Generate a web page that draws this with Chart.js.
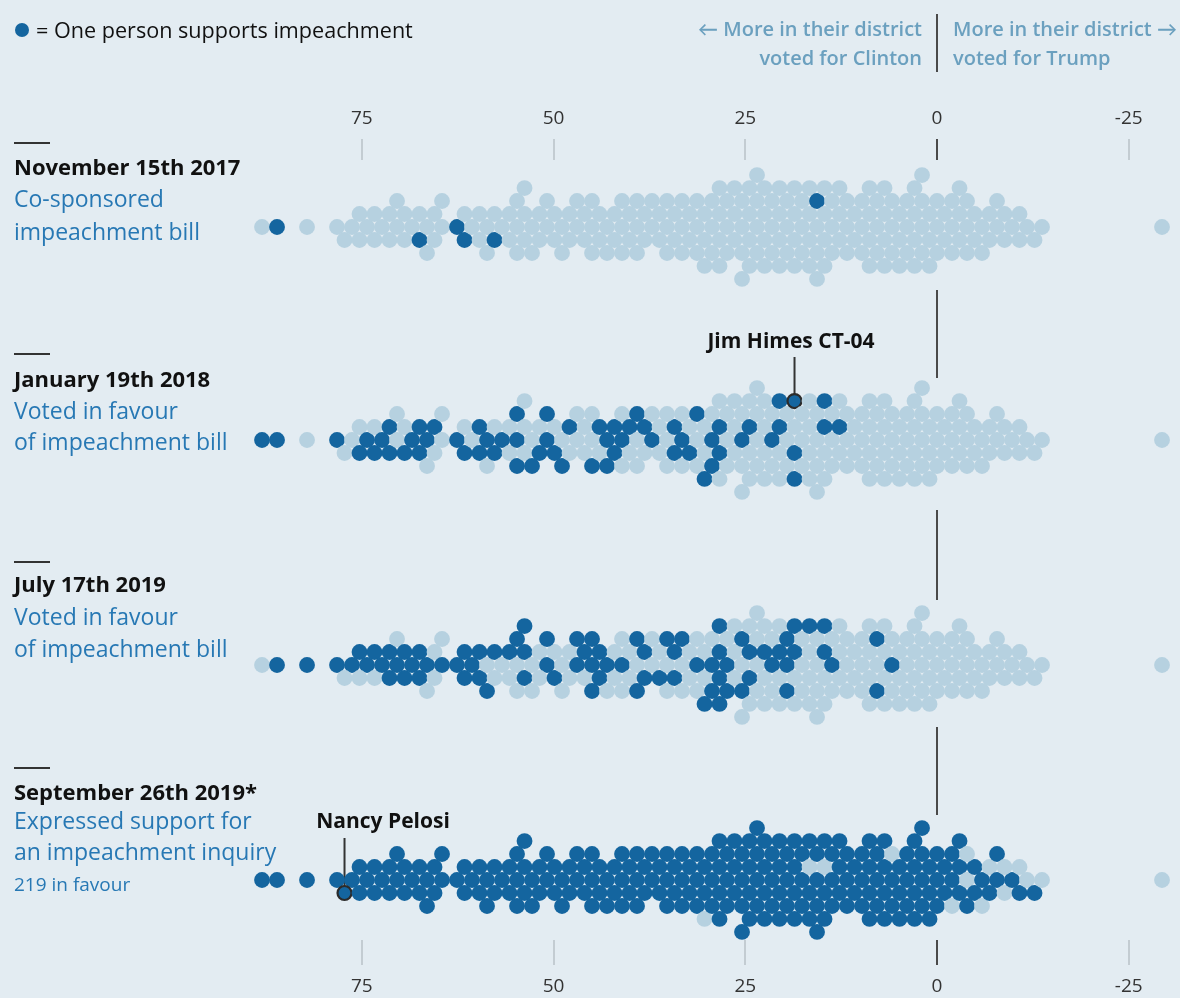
<!DOCTYPE html>
<html>
<head>
<meta charset="utf-8">
<script src="https://cdn.jsdelivr.net/npm/chart.js@4.4.0/dist/chart.umd.min.js"></script>
<style>
    html, body { margin: 0; padding: 0; background: #e3ecf2; }
    #lienzo { position: relative; width: 1180px; height: 998px; overflow: hidden; font-family: "Open Sans", Lato, sans-serif; }
    #lienzo canvas { position: absolute; left: 0; top: 0; }
    .texto { position: absolute; white-space: nowrap; line-height: 30px; transform: translateY(-50%); }
</style>
</head>
<body>
<div id="lienzo"><canvas id="enjambre" width="1180" height="998"></canvas></div>
<script>
// Margen de Clinton (puntos) en el distrito de cada demócrata, de izquierda a derecha
const margenClinton = [
    87.7, 85.8, 82.8, 79.0, 77.0, 76.3, 75.8, 75.1,
    74.7, 74.1, 73.4, 73.0, 72.2, 71.9, 71.1, 70.5, 70.2,
    69.5, 69.1, 68.3, 68.0, 67.2, 66.9, 66.1, 65.8, 65.1,
    64.6, 63.3, 62.4, 61.6, 61.3, 60.1,
    59.8, 59.3, 59.0, 58.4, 58.1, 57.5, 56.6, 56.4, 55.7, 55.5, 55.0,
    54.7, 54.1, 53.9, 53.2, 53.0, 52.4, 51.5, 51.3, 50.7, 50.5, 50.1,
    49.5, 49.3, 48.7, 48.4, 47.8, 46.9, 46.7, 46.1, 45.9, 45.3, 45.0,
    44.5, 44.3, 43.6, 43.4, 42.8, 42.5, 41.9, 41.7, 41.1, 40.9, 40.3, 40.0,
    39.5, 39.3, 38.7, 38.4, 37.8, 37.4, 36.9, 36.5, 36.1, 35.6, 35.2,
    34.8, 34.3, 34.1, 33.5, 33.3, 32.8, 32.6, 32.0, 31.8, 31.3, 31.1, 30.6, 30.4, 30.0,
    29.8, 29.4, 29.3, 28.8, 28.7, 28.2, 28.0, 27.7, 27.5, 27.1, 27.0, 26.5, 26.4, 26.0, 25.9, 25.4, 25.3, 25.0,
    24.8, 24.6, 24.1, 24.0, 23.6, 23.5, 23.1, 22.9, 22.7, 22.3, 22.2, 21.7, 21.6, 21.2, 21.1, 20.7, 20.6, 20.2, 20.0,
    19.9, 19.5, 19.3, 18.9, 18.8, 18.3, 18.2, 17.9, 17.6, 17.5, 17.0, 16.9, 16.5, 16.4, 16.0, 15.8, 15.5, 15.3, 15.0,
    14.7, 14.3, 14.1, 13.6, 13.4, 13.0, 12.8, 12.3, 12.1, 11.7, 11.4, 11.0, 10.7, 10.4, 10.0,
    9.6, 9.4, 9.1, 8.9, 8.7, 8.2, 8.0, 7.6, 7.3, 7.0, 6.9, 6.6, 6.2, 5.9, 5.6, 5.3, 5.0,
    4.7, 4.3, 4.1, 3.8, 3.6, 3.4, 3.0, 2.7, 2.4, 2.2, 2.0, 1.8, 1.3, 1.1, 0.7, 0.4, 0.1,
    -0.3, -0.6, -1.1, -1.3, -1.8, -2.1, -2.6, -2.8, -3.3, -3.6, -4.0, -4.2, -4.7, -5.0,
    -5.6, -6.0, -6.7, -7.1, -7.8, -8.2, -8.9, -9.3, -9.9,
    -10.6, -11.3, -12.5, -13.7,
    -29.8
];

const ticksEje = [75, 50, 25, 0, -25];

const fechas = ["November 15th 2017", "January 19th 2018", "July 17th 2019", "September 26th 2019*"];
const descripciones = [
    ["Co-sponsored", "impeachment bill"],
    ["Voted in favour", "of impeachment bill"],
    ["Voted in favour", "of impeachment bill"],
    ["Expressed support for", "an impeachment inquiry"]
];
const notaFavor = "219 in favour";

// Quién apoya en cada fecha: [margen, carril aproximado dentro del enjambre]
const apoyoNov2017 = [[85.7, 0], [67.4, 0.7], [63.5, 0.2], [60.9, 1.5], [57.6, 0.7], [15.3, -1.5]];
const apoyoEne2018 = [
    [87.6, 0.1], [85.7, 0.1], [78.9, 0.1], [72.0, -1.5], [74.3, -0.6], [72.2, -0.4], [74.8, 0.6], [72.9, 0.9],
    [70.9, 0.5], [71.3, 1.7], [68.4, -1.2], [69.1, 0], [67.1, -0.4], [67.7, 0.9], [65.2, -0.6], [62.4, -0.5],
    [59.2, -1.4], [58.3, -0.2], [59.6, 0.8], [57.6, 0.9], [60.9, 1.7], [56.1, -2.2], [56.3, -0.2], [54.0, -0.2],
    [51.8, -0.2], [51.4, -2.1], [48.8, -0.8], [51.1, 1.0], [49.2, 1.2], [54.4, 1.9], [52.2, 2.1], [48.2, 2.3],
    [44.9, 2.7], [44.2, -1.3], [43.5, -1.4], [42.6, -0.4], [43.3, 1.8], [42.0, 0.8], [40.7, -0.2], [39.6, -1.0],
    [38.3, -2.1], [37.7, -0.8], [37.0, 0.6], [35.2, 0.8], [34.6, -1.3], [33.9, -0.2], [33.2, 1.0], [31.8, -2.2],
    [28.7, -0.8], [29.9, 0.2], [28.0, 1.2], [29.6, 2.1], [30.9, 2.8], [24.8, -1.3], [25.4, 0], [21.5, -0.5],
    [19.6, -0.8], [20.2, -2.8], [18.1, -2.9], [14.3, -3.6], [15.3, -1.4], [12.0, -0.6], [18.9, 1.3], [18.1, 3.2]
];
const apoyoJul2019 = [
    [85.7, 0], [82.7, 0], [78.9, 0], [76.5, -0.5], [74.3, -1.2], [72.2, -1.3], [74.8, 0.4], [71.3, 0.5],
    [71.1, 1.5], [69.4, 1.2], [70.3, -0.4], [68.4, -0.8], [66.8, -0.4], [65.1, -0.4], [63.2, -0.8], [61.5, -1.3],
    [60.9, 0], [59.2, 0.5], [58.7, 1.5], [60.9, 1.2], [59.6, -1.9], [57.6, -1.2], [56.3, -2.1], [55.7, -0.4],
    [54.4, -1.3], [53.7, 0.5], [51.8, -1.9], [50.7, -0.5], [49.2, 1.2], [47.6, -1.9], [45.9, -0.8], [44.2, -2.5],
    [43.9, -1.3], [44.9, 0.2], [43.3, 1.2], [42.4, -0.4], [44.2, 2.3], [40.0, 1.9], [40.7, 0], [38.7, -2.1],
    [37.4, -0.8], [36.1, 0.5], [33.5, -1.3], [32.5, -2.3], [31.6, -0.4], [33.5, 1.2], [30.9, 2.7], [29.6, 1.9],
    [29.3, -3.1], [28.0, -1.2], [27.6, 0], [28.6, 1.2], [26.6, 1.9], [27.2, 3.6], [25.0, 1.9], [25.7, -1.9],
    [24.6, -0.4], [23.1, -1.3], [21.8, -0.8], [21.1, 0.5], [20.2, -0.4], [19.4, -3.8], [18.9, -2.7], [18.1, -3.1],
    [17.9, -1.3], [14.2, -3.6], [15.5, -1.3], [14.0, -0.4], [7.4, -2.1], [5.1, -0.2], [8.5, 2.1], [19.8, 1.9],
    [23.7, 1.2], [30.9, 0], [35.1, -1.9], [38.3, 0.8], [47.2, 0.4], [51.1, -3.1], [75.9, -1.3], [73.7, -0.4],
    [67.4, 0.5], [68.7, 0.2]
];
// En septiembre de 2019 casi todos apoyan: se listan los que no
const sinApoyoSep2019 = [
    [30.9, 2.8], [17.5, -1], [14.2, -0.5], [5.5, -2.2], [-3.7, -1.9], [-3.9, 0], [-2.6, 2.3], [-6.5, 2.1],
    [-6.9, -1.2], [-9.3, -1.2], [-8.9, 1.3], [-11.2, -0.6], [-11.7, 0.6], [-13.4, 0], [-29.7, 0]
];
const jimHimes = [19.4, -3.8];
const nancyPelosi = [76.8, 0.6];

// ----- Disposición -----
const X_MIN = -31.68, X_MAX = 122.17;
const ANCHO = 1180, ALTO = 998;
const PX_POR_UNIDAD = ANCHO / (X_MAX - X_MIN);
const DIAMETRO = 15;
const PX_POR_FILA = DIAMETRO * Math.sqrt(3) / 2;
const centrosFilas = [227, 440, 665, 880];
const COLOR_CLARO = "#b6d1e0";
const COLOR_OSCURO = "#14659f";

// Enjambre sobre una rejilla hexagonal: cada punto va a la celda libre más cercana al centro
function calcularEnjambre(valores) {
    const ocupadas = new Set();
    let lado = 1;
    return valores.map(valor => {
        const x = valor * PX_POR_UNIDAD;
        for (let k = 0; k < 40; k++) {
            const carriles = k === 0 ? [0] : [k * lado, -k * lado];
            for (const f of carriles) {
                const desfase = (Math.abs(f) % 2) * DIAMETRO / 2;
                const n = Math.round((x - desfase) / DIAMETRO);
                const clave = f + ':' + n;
                if (!ocupadas.has(clave)) {
                    ocupadas.add(clave);
                    if (k > 0) lado = -lado;
                    return { valor, x: n * DIAMETRO + desfase, dy: f * PX_POR_FILA };
                }
            }
        }
    });
}

// Buscar en el enjambre la persona más cercana a cada referencia
function buscarPersonas(enjambre, lista) {
    const elegidos = new Set();
    lista.forEach(([valor, carril]) => {
        let mejor = -1, mejorD = Infinity;
        enjambre.forEach((p, i) => {
            if (elegidos.has(i)) return;
            const dx = p.x - valor * PX_POR_UNIDAD;
            const dy = p.dy - carril * 13;
            const d = dx * dx + dy * dy;
            if (d < mejorD) { mejorD = d; mejor = i; }
        });
        elegidos.add(mejor);
    });
    return elegidos;
}

const enjambre = calcularEnjambre(margenClinton);
const listasApoyo = [apoyoNov2017, apoyoEne2018, apoyoJul2019];

const datasets = centrosFilas.map((centro, fila) => {
    let oscuros;
    if (fila < 3) {
        oscuros = buscarPersonas(enjambre, listasApoyo[fila]);
    } else {
        const claros = buscarPersonas(enjambre, sinApoyoSep2019);
        oscuros = new Set(enjambre.map((p, i) => i).filter(i => !claros.has(i)));
    }
    const destacado = fila === 1 ? buscarPersonas(enjambre, [jimHimes]) : fila === 3 ? buscarPersonas(enjambre, [nancyPelosi]) : new Set();
    return {
        data: enjambre.map(p => ({ x: p.x / PX_POR_UNIDAD, y: centro + p.dy })),
        backgroundColor: enjambre.map((p, i) => oscuros.has(i) || destacado.has(i) ? COLOR_OSCURO : COLOR_CLARO),
        borderColor: enjambre.map((p, i) => destacado.has(i) ? "#2b2b2b" : "rgba(0,0,0,0)"),
        borderWidth: enjambre.map((p, i) => destacado.has(i) ? 2.2 : 0),
        pointRadius: enjambre.map((p, i) => destacado.has(i) ? 7 : 7.9),
        destacado: [...destacado][0]
    };
});

// Líneas del eje: marcas de ticks y la línea del cero entre filas
const lineasEje = {
    id: 'lineasEje',
    beforeDatasetsDraw(chart) {
        const ctx = chart.ctx;
        const x = chart.scales.x;
        ctx.save();
        ticksEje.forEach(t => {
            const px = Math.round(x.getPixelForValue(t));
            ctx.strokeStyle = t === 0 ? '#4a4a4a' : '#c3ccd2';
            ctx.lineWidth = 2;
            [[139, 160], [940, 965]].forEach(([y0, y1]) => {
                ctx.beginPath(); ctx.moveTo(px, y0); ctx.lineTo(px, y1); ctx.stroke();
            });
        });
        const cero = Math.round(x.getPixelForValue(0));
        ctx.strokeStyle = '#4a4a4a';
        ctx.lineWidth = 2;
        [[14, 72], [290, 378], [510, 600], [727, 815]].forEach(([y0, y1]) => {
            ctx.beginPath(); ctx.moveTo(cero, y0); ctx.lineTo(cero, y1); ctx.stroke();
        });
        // líneas guía de las anotaciones
        ctx.strokeStyle = '#333';
        [[1, 357], [3, 838]].forEach(([fila, y0]) => {
            const ds = chart.data.datasets[fila];
            const p = ds.data[ds.destacado];
            const px = x.getPixelForValue(p.x);
            const py = chart.scales.y.getPixelForValue(p.y);
            ctx.beginPath(); ctx.moveTo(px, y0); ctx.lineTo(px, py - 7); ctx.stroke();
        });
        ctx.restore();
    }
};

const grafico = new Chart(document.getElementById('enjambre'), {
    type: 'scatter',
    data: { datasets },
    options: {
        responsive: false,
        animation: false,
        events: [],
        layout: { padding: 0, autoPadding: false },
        plugins: { legend: { display: false }, tooltip: { enabled: false } },
        scales: {
            x: { type: 'linear', reverse: true, min: X_MIN, max: X_MAX, display: false },
            y: { type: 'linear', reverse: true, min: 0, max: ALTO, display: false }
        }
    },
    plugins: [lineasEje]
});

// ----- Textos -----
const lienzo = document.getElementById('lienzo');
function ponerTexto(texto, x, y, estilo, alineacion) {
    const div = document.createElement('div');
    div.className = 'texto';
    div.textContent = texto;
    Object.assign(div.style, estilo);
    div.style.top = y + 'px';
    if (alineacion === 'derecha') {
        div.style.right = (ANCHO - x) + 'px';
    } else if (alineacion === 'centro') {
        div.style.left = x + 'px';
        div.style.transform = 'translate(-50%, -50%)';
    } else {
        div.style.left = x + 'px';
    }
    lienzo.appendChild(div);
    return div;
}

// leyenda
const punto = document.createElement('div');
Object.assign(punto.style, { position: 'absolute', left: '15px', top: '23px', width: '14px', height: '14px', borderRadius: '50%', background: COLOR_OSCURO });
lienzo.appendChild(punto);
ponerTexto("= One person supports impeachment", 36, 30, { fontSize: '21.6px', color: '#111' });

// cabecera a ambos lados del cero
const estiloCabecera = { fontSize: '20px', fontWeight: '600', color: '#6ba0bf' };
ponerTexto("\u2190 More in their district", 922, 29, estiloCabecera, 'derecha');
ponerTexto("voted for Clinton", 922, 58, estiloCabecera, 'derecha');
ponerTexto("More in their district \u2192", 953, 29, estiloCabecera);
ponerTexto("voted for Trump", 953, 58, estiloCabecera);

// etiquetas de los ticks arriba y abajo
ticksEje.forEach(t => {
    const px = grafico.scales.x.getPixelForValue(t);
    [117, 985].forEach(y => ponerTexto(String(t), px, y, { fontSize: '19px', color: '#333' }, 'centro'));
});

// etiquetas de cada fila
const lineasFilas = [[143, 166, 198, 231], [354, 378, 410, 441], [562, 583, 616, 648], [768, 791, 820, 851]];
lineasFilas.forEach((ys, fila) => {
    const barra = document.createElement('div');
    Object.assign(barra.style, { position: 'absolute', left: '14px', top: (ys[0] - 1) + 'px', width: '36px', height: '2px', background: '#333' });
    lienzo.appendChild(barra);
    ponerTexto(fechas[fila], 14, ys[1], { fontSize: '22px', fontWeight: '700', color: '#111' });
    descripciones[fila].forEach((linea, j) => ponerTexto(linea, 14, ys[2 + j], { fontSize: '23px', color: '#2778b4' }));
});
ponerTexto(notaFavor, 14, 884, { fontSize: '19px', color: '#2778b4' });

// anotaciones de personas
ponerTexto("Jim Himes CT-04", 791, 340, { fontSize: '21px', fontWeight: '700', color: '#111' }, 'centro');
ponerTexto("Nancy Pelosi", 383, 820, { fontSize: '21px', fontWeight: '700', color: '#111' }, 'centro');
</script>
</body>
</html>
